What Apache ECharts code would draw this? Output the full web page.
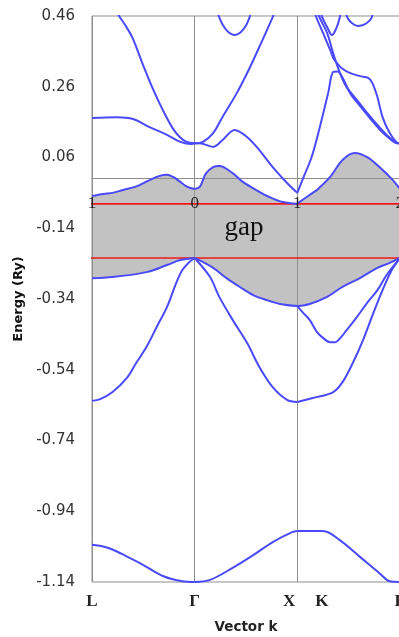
<!DOCTYPE html>
<html><head><meta charset="utf-8">
<script src="https://cdn.jsdelivr.net/npm/echarts@6/dist/echarts.min.js"></script>
<style>html,body{margin:0;padding:0;background:#fff}#c{width:399px;height:637px}</style>
</head><body><div id="c"></div>
<script>
// ---- tick labels / annotations ----
const yTickValues = [-1.14, -0.94, -0.74, -0.54, -0.34, -0.14, 0.06, 0.26, 0.46];
const topTickLabels = ['1', '0', '1', '2'];
const topTickPos = [0, 1, 2, 3];
const topTickE = -0.071;
const pathPos = [0, 1, 1.92, 2.24, 3];
const pathLabels = ['L', 'Γ', 'X', 'K', 'Γ'];
const gapEdgeE = [-0.071, -0.224];
const gapEdgeStart = [-0.08, -0.04];
const gapText = 'gap';
const gapTextAt = [1.48, -0.14];

// ---- bands: each is a list of segments of [k, E(Ry)] ----
const band1 = [
  [[0,-1.035],[0.1,-1.039],[0.2,-1.048],[0.34,-1.068],[0.5,-1.092],[0.69,-1.123],[0.88,-1.138],[1,-1.14]],
  [[1,-1.14],[1.15,-1.134],[1.37,-1.100],[1.57,-1.064],[1.76,-1.027],[1.95,-0.999],[2,-0.996]],
  [[2,-0.996],[2.25,-0.996],[2.41,-1.021],[2.61,-1.069],[2.8,-1.115],[2.9,-1.138],[3,-1.14]]
];
const band2 = [
  [[0,-0.628],[0.08,-0.623],[0.2,-0.603],[0.34,-0.563],[0.43,-0.521],[0.53,-0.476],[0.63,-0.419],[0.73,-0.363],[0.82,-0.295],[0.88,-0.258],[0.95,-0.235],[1,-0.224]],
  [[1,-0.224],[1.15,-0.278],[1.24,-0.334],[1.37,-0.399],[1.51,-0.464],[1.63,-0.532],[1.76,-0.589],[1.9,-0.625],[2,-0.631]],
  [[2,-0.631],[2.15,-0.620],[2.35,-0.603],[2.44,-0.575],[2.54,-0.521],[2.64,-0.456],[2.74,-0.380],[2.83,-0.315],[2.92,-0.258],[3,-0.224]]
];
const band3 = [
  [[0,-0.281],[0.2,-0.278],[0.53,-0.264],[0.73,-0.244],[0.86,-0.230],[1,-0.224]],
  [[1,-0.224],[1.18,-0.252],[1.31,-0.281],[1.44,-0.306],[1.57,-0.329],[1.7,-0.343],[1.83,-0.354],[2,-0.360]],
  [[2,-0.360],[2.12,-0.354],[2.29,-0.334],[2.44,-0.306],[2.61,-0.281],[2.78,-0.252],[2.9,-0.238],[3,-0.224]]
];
const band3b = [
  [[2,-0.360],[2.05,-0.377],[2.12,-0.399],[2.19,-0.433],[2.25,-0.450],[2.32,-0.462],[2.37,-0.462],[2.42,-0.450],[2.48,-0.428],[2.58,-0.391],[2.68,-0.351],[2.78,-0.315],[2.87,-0.272],[2.97,-0.235],[3,-0.224]]
];
const band4 = [
  [[0,-0.049],[0.11,-0.043],[0.2,-0.040],[0.3,-0.032],[0.44,-0.021],[0.56,-0.004],[0.66,0.008],[0.73,0.011],[0.79,0.005],[0.86,-0.009],[0.93,-0.023],[1,-0.029]],
  [[1,-0.029],[1.05,-0.023],[1.11,0.015],[1.18,0.033],[1.24,0.036],[1.37,0.016],[1.47,-0.009],[1.6,-0.032],[1.73,-0.052],[1.86,-0.066],[2,-0.071]],
  [[2,-0.071],[2.02,-0.066],[2.15,-0.040],[2.19,-0.032],[2.32,0.005],[2.44,0.053],[2.56,0.073],[2.68,0.061],[2.8,0.033],[2.93,-0.004],[3,-0.029]]
];
const band5 = [
  [[0,0.172],[0.24,0.174],[0.4,0.169],[0.56,0.146],[0.73,0.124],[0.86,0.104],[0.97,0.098],[1,0.1]],
  [[1,0.1],[1.05,0.1],[1.18,0.090],[1.27,0.109],[1.39,0.138],[1.51,0.118],[1.63,0.081],[1.76,0.033],[1.9,-0.012],[2,-0.040]],
  [[2,-0.040],[2.05,-0.003],[2.14,0.062],[2.22,0.147],[2.3,0.242],[2.35,0.302],[2.39,0.303],[2.44,0.286],[2.52,0.239],[2.61,0.206],[2.71,0.170],[2.8,0.140],[2.9,0.113],[2.97,0.1],[3,0.1]]
];
const band6 = [
  [[0.255,0.465],[0.268,0.458],[0.333,0.430],[0.395,0.398],[0.49,0.327],[0.59,0.256],[0.69,0.194],[0.785,0.143],[0.854,0.118],[0.922,0.104],[1,0.1]],
  [[1,0.1],[1.08,0.104],[1.18,0.129],[1.27,0.174],[1.41,0.242],[1.54,0.316],[1.66,0.392],[1.76,0.457],[1.77,0.465]]
];
const band7 = [
  [[1.225,0.47],[1.237,0.458],[1.273,0.435],[1.322,0.416],[1.39,0.406],[1.456,0.416],[1.504,0.435],[1.537,0.458],[1.547,0.47]]
];
const bandA = [
  [[2.175,0.47],[2.18,0.46],[2.25,0.412],[2.32,0.364],[2.35,0.341],[2.385,0.327],[2.43,0.313],[2.51,0.299],[2.61,0.290],[2.69,0.285],[2.73,0.271],[2.78,0.231],[2.83,0.174],[2.9,0.129],[2.97,0.102],[3,0.1]]
];
const bandB = [
  [[2.205,0.47],[2.21,0.46],[2.29,0.412],[2.34,0.364],[2.37,0.336],[2.415,0.299],[2.48,0.259],[2.58,0.223],[2.68,0.186],[2.78,0.152],[2.87,0.124],[2.97,0.101],[3,0.1]]
];
const bandU1 = [
  [[2.235,0.47],[2.24,0.458],[2.29,0.429],[2.337,0.406],[2.385,0.429],[2.415,0.458],[2.42,0.47]]
];
const bandU2 = [
  [[2.478,0.47],[2.483,0.458],[2.53,0.440],[2.59,0.432],[2.66,0.437],[2.71,0.449],[2.727,0.458],[2.735,0.47]]
];

const allBands = [band1, band2, band3, band3b, band4, band5, band6, band7, bandA, bandB, bandU1, bandU2];
const BLUE = '#4a4afc';

function joinSegs(segs) {
  const out = [];
  segs.forEach(s => s.forEach(p => {
    const last = out[out.length - 1];
    if (last && last[0] === p[0] && last[1] === p[1]) return;
    out.push(p);
  }));
  return out;
}

const series = [];
series.push({
  type: 'custom', z: 1, silent: true, clip: false, data: [[0, 0]],
  renderItem: function (params, api) {
    const up = joinSegs(band4);
    const lo = joinSegs(band3).reverse();
    const pts = up.concat(lo).map(p => api.coord(p));
    const c = api.coord(gapTextAt);
    return {
      type: 'group', children: [
        { type: 'polygon', shape: { points: pts }, style: { fill: '#c2c2c2' } },
        { type: 'text', x: c[0], y: c[1], style: { text: gapText, font: '27px "Liberation Serif"', fill: '#111', align: 'center', verticalAlign: 'middle' } }
      ]
    };
  }
});
// top tick labels ("1 0 1 2") sitting on the upper gap line
series.push({
  type: 'custom', z: 5, silent: true, clip: false, data: [[0, 0]],
  renderItem: function (params, api) {
    return {
      type: 'group', children: topTickPos.map((x, i) => {
        const c = api.coord([x, topTickE]);
        return { type: 'text', x: c[0], y: c[1], style: { text: topTickLabels[i], font: '17px "Liberation Serif"', fill: '#222', align: 'center', verticalAlign: 'middle' } };
      })
    };
  }
});
gapEdgeE.forEach((e, i) => {
  series.push({
    type: 'line', z: 3, clip: false, silent: true, symbol: 'none',
    data: [[gapEdgeStart[i], e], [3, e]],
    lineStyle: { color: '#f01818', width: 1.6 }
  });
});
allBands.forEach(b => b.forEach(seg => {
  series.push({
    type: 'line', z: 4, silent: true, symbol: 'none', smooth: 0.35,
    data: seg, lineStyle: { color: BLUE, width: 2 }
  });
}));

const chart = echarts.init(document.getElementById('c'), null, { renderer: 'canvas' });
chart.setOption({
  animation: false,
  backgroundColor: '#fff',
  grid: { left: 92, top: 16, width: 308, height: 566, show: true, borderColor: '#8f8f8f', borderWidth: 1, z: 2, outerBoundsMode: 'none', containLabel: false },
  xAxis: [
    {
      type: 'value', min: 0, max: 3, interval: 1, z: 2,
      axisLine: { onZero: true, lineStyle: { color: '#8f8f8f', width: 1 } },
      axisTick: { show: false },
      splitLine: { show: true, lineStyle: { color: '#8f8f8f', width: 1 } },
      axisLabel: { show: false }
    },
    {
      type: 'value', min: 0, max: 3, position: 'bottom', z: 2,
      axisLine: { show: false, onZero: false }, axisTick: { show: false }, splitLine: { show: false },
      axisLabel: {
        customValues: pathPos, margin: 11, fontFamily: 'Liberation Serif', fontWeight: 'bold', fontSize: 17, color: '#222',
        formatter: v => pathLabels[pathPos.indexOf(v)]
      },
      name: 'Vector k', nameLocation: 'middle', nameGap: 38,
      nameTextStyle: { fontFamily: 'DejaVu Sans', fontWeight: 'bold', fontSize: 13.5, color: '#222' }
    }
  ],
  yAxis: {
    type: 'value', min: -1.14, max: 0.46, z: 2,
    axisLine: { show: false }, axisTick: { show: false }, splitLine: { show: false },
    axisLabel: {
      customValues: yTickValues, margin: 17, fontFamily: 'DejaVu Sans', fontSize: 15, color: '#333',
      formatter: v => v.toFixed(2)
    },
    name: 'Energy (Ry)', nameLocation: 'middle', nameGap: 66, nameRotate: 90,
    nameTextStyle: { fontFamily: 'DejaVu Sans', fontWeight: 'bold', fontSize: 13, color: '#111' }
  },
  series: series
});
</script></body></html>
